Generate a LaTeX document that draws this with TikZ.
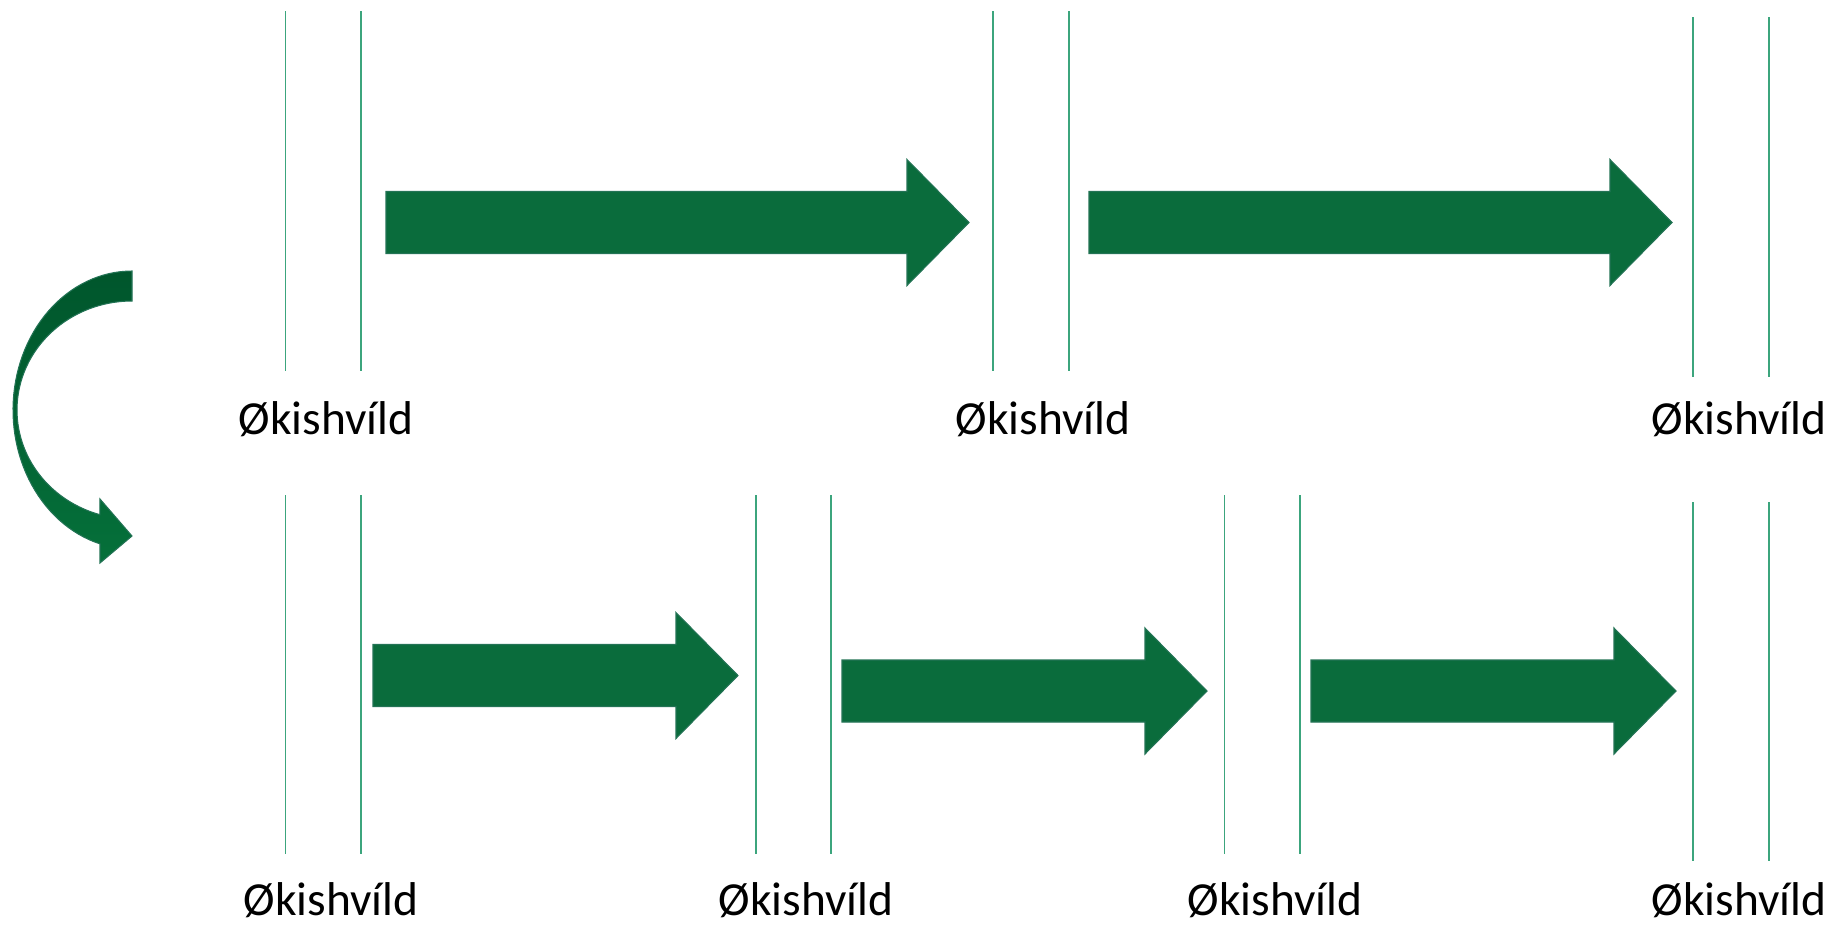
\documentclass[tikz,border=0pt]{standalone}
\usepackage{fontspec}
\setmainfont{Carlito}
\usetikzlibrary{calc}
\definecolor{arrowgreen}{RGB}{10,108,60}
\definecolor{edgegreen}{RGB}{35,115,85}
\definecolor{linegreen}{RGB}{60,165,125}
\definecolor{curvetop}{RGB}{0,86,44}
\definecolor{curvebottom}{RGB}{5,112,58}
\tikzset{
    every node/.style={font=\fontsize{27}{32}\selectfont},
    divider/.style={linegreen, line width=1.1pt},
    block arrow/.style={fill=arrowgreen, draw=edgegreen, line width=0.6pt},
    stage label/.style={anchor=base, inner sep=0pt}
}

\begin{document}
\begin{tikzpicture}[x=0.02cm, y=-0.02cm]

    \useasboundingbox (0,0) rectangle (1832,927);

    % dividers
    \foreach \x/\ya/\yb in {285.5/11/371, 361/11/371, 993/11/371, 1069/11/371, 1693/17/377, 1769/17/377,
        285.5/495/854, 361/495/854, 756/495/854, 831/495/854, 1224.5/495/854, 1300/495/854, 1693/502/861, 1769/502/861}
        \draw[divider] (\x,\ya) -- (\x,\yb);

    % block arrows
    \foreach \xa/\xb/\ym in {386/969/222.5, 1089/1672/222.5, 373/738/675.5, 842/1207/691, 1311/1676/691}
        \draw[block arrow] (\xa,\ym-31) -- (\xb-62,\ym-31) -- (\xb-62,\ym-63) -- (\xb,\ym)
            -- (\xb-62,\ym+63) -- (\xb-62,\ym+31) -- (\xa,\ym+31) -- cycle;

    % curved arrow from first row down to second
    \shadedraw[top color=curvetop, bottom color=curvebottom, draw=edgegreen, line width=0.6pt]
        (132,271) -- plot[domain=270:105.6, samples=60] ({132+119*cos(\x)},{410+139*sin(\x)})
        -- (100,563) -- (132,536) -- (100,499)
        -- plot[domain=106.2:270, samples=60] ({132+115*cos(\x)},{410+109*sin(\x)}) -- cycle;

    % labels
    \node[stage label] (top1) at (326,434) {Økishvíld};
    \node[stage label] (top2) at (1043,434) {Økishvíld};
    \node[stage label] (top3) at (1739,434) {Økishvíld};
    \node[stage label] (bot1) at (331,915) {Økishvíld};
    \node[stage label] (bot2) at (806,915) {Økishvíld};
    \node[stage label] (bot3) at (1275,915) {Økishvíld};
    \node[stage label] (bot4) at (1739,915) {Økishvíld};

\end{tikzpicture}
\end{document}
